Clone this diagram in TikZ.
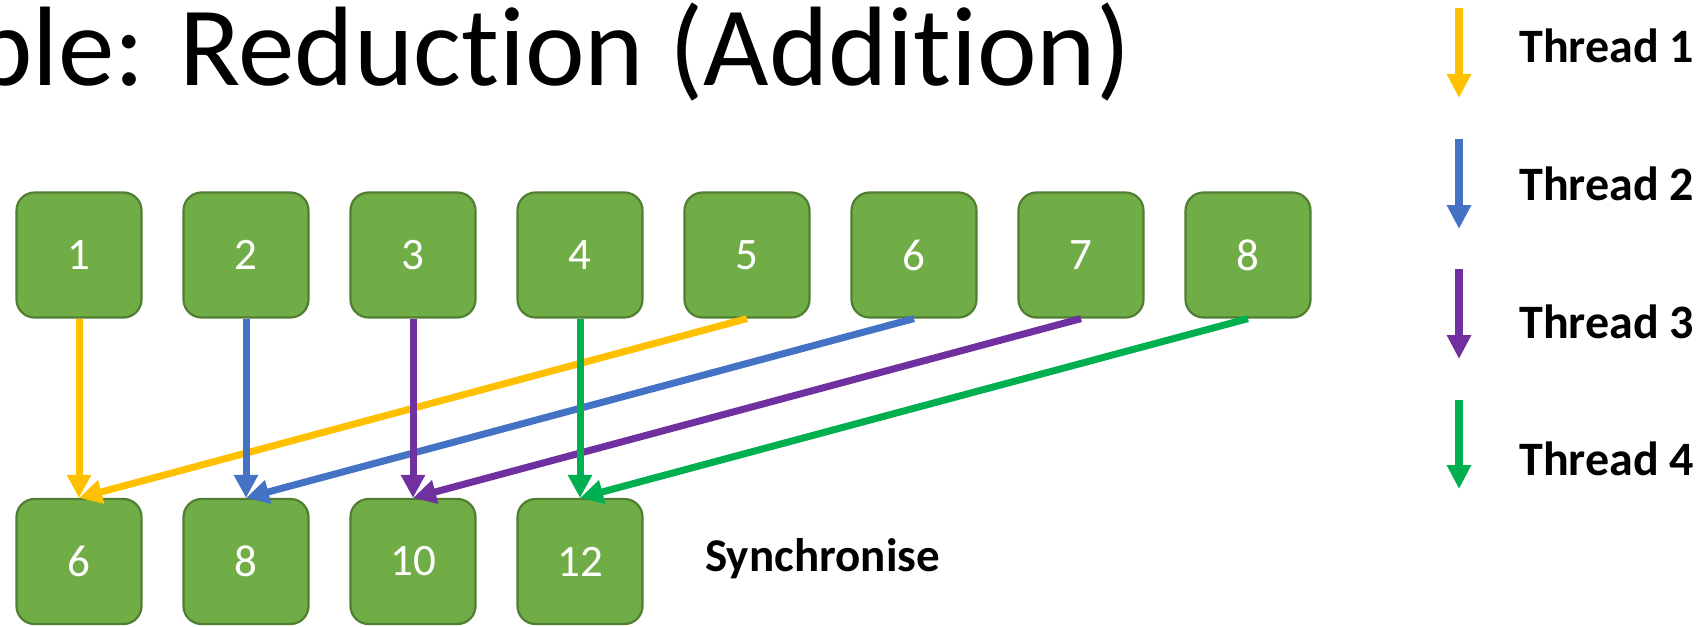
\documentclass[tikz,border=0pt]{standalone}
\usepackage{fontspec}
\setmainfont{Carlito}[Ligatures={TeX,NoCommon}]
\usetikzlibrary{arrows.meta}

\definecolor{boxfill}{HTML}{70AD47}
\definecolor{boxline}{HTML}{507E32}
\definecolor{thone}{HTML}{FFC000}
\definecolor{thtwo}{HTML}{4472C4}
\definecolor{ththree}{HTML}{7030A0}
\definecolor{thfour}{HTML}{00B050}

\tikzset{
  val/.style={rectangle, rounded corners=9pt, draw=boxline, fill=boxfill, line width=1.1pt,
    minimum width=62.5pt, minimum height=62.5pt, inner sep=0pt, text=white,
    font=\fontsize{22.5pt}{27pt}\selectfont},
  thr/.style={line width=3.5pt, -{Triangle[width=11.5pt,length=11.5pt]}},
  key/.style={line width=4pt, -{Triangle[width=11.5pt,length=12pt]}},
  keytext/.style={anchor=base west, inner sep=0pt, font=\fontsize{24pt}{28pt}\selectfont\bfseries},
}

\begin{document}
\begin{tikzpicture}[x=0.5pt,y=-0.5pt]
\useasboundingbox (0,0) rectangle (1706,626);
\clip (0,0) rectangle (1706,626);

\node[anchor=base west, inner sep=0pt, font=\fontsize{56.5pt}{60pt}\selectfont] (title) at (-27,86) {ple: Reduction (Addition)};

% input values
\node[val] (val1) at (79,255) {1};
\node[val] (val2) at (246,255) {2};
\node[val] (val3) at (413,255) {3};
\node[val] (val4) at (580,255) {4};
\node[val] (val5) at (747,255) {5};
\node[val] (val6) at (914,255) {6};
\node[val] (val7) at (1081,255) {7};
\node[val] (val8) at (1248,255) {8};

% partial sums
\node[val] (sum1) at (79,561.5) {6};
\node[val] (sum2) at (246,561.5) {8};
\node[val] (sum3) at (413,561.5) {10};
\node[val] (sum4) at (580,561.5) {12};

\node[anchor=base west, inner sep=0pt, font=\fontsize{23.5pt}{28pt}\selectfont\bfseries] (sync) at (705,571) {Synchronise};

\draw[thr, thone](val1.south) -- (sum1.north);
\draw[thr, thone](val5.south) -- (sum1.north);
\draw[thr, thtwo](val2.south) -- (sum2.north);
\draw[thr, thtwo](val6.south) -- (sum2.north);
\draw[thr, ththree](val3.south) -- (sum3.north);
\draw[thr, ththree](val7.south) -- (sum3.north);
\draw[thr, thfour](val4.south) -- (sum4.north);
\draw[thr, thfour](val8.south) -- (sum4.north);

% legend
\coordinate (key1a) at (1459,8);
\coordinate (key1b) at (1459,98);
\coordinate (key2a) at (1459,139);
\coordinate (key2b) at (1459,229);
\coordinate (key3a) at (1459,269);
\coordinate (key3b) at (1459,359);
\coordinate (key4a) at (1459,400);
\coordinate (key4b) at (1459,489);

\draw[key, thone](key1a) -- (key1b);
\draw[key, thtwo](key2a) -- (key2b);
\draw[key, ththree](key3a) -- (key3b);
\draw[key, thfour](key4a) -- (key4b);

\node[keytext] (lab1) at (1519,63) {Thread 1};
\node[keytext] (lab2) at (1519,200) {Thread 2};
\node[keytext] (lab3) at (1519,338) {Thread 3};
\node[keytext] (lab4) at (1519,475) {Thread 4};

\end{tikzpicture}
\end{document}
